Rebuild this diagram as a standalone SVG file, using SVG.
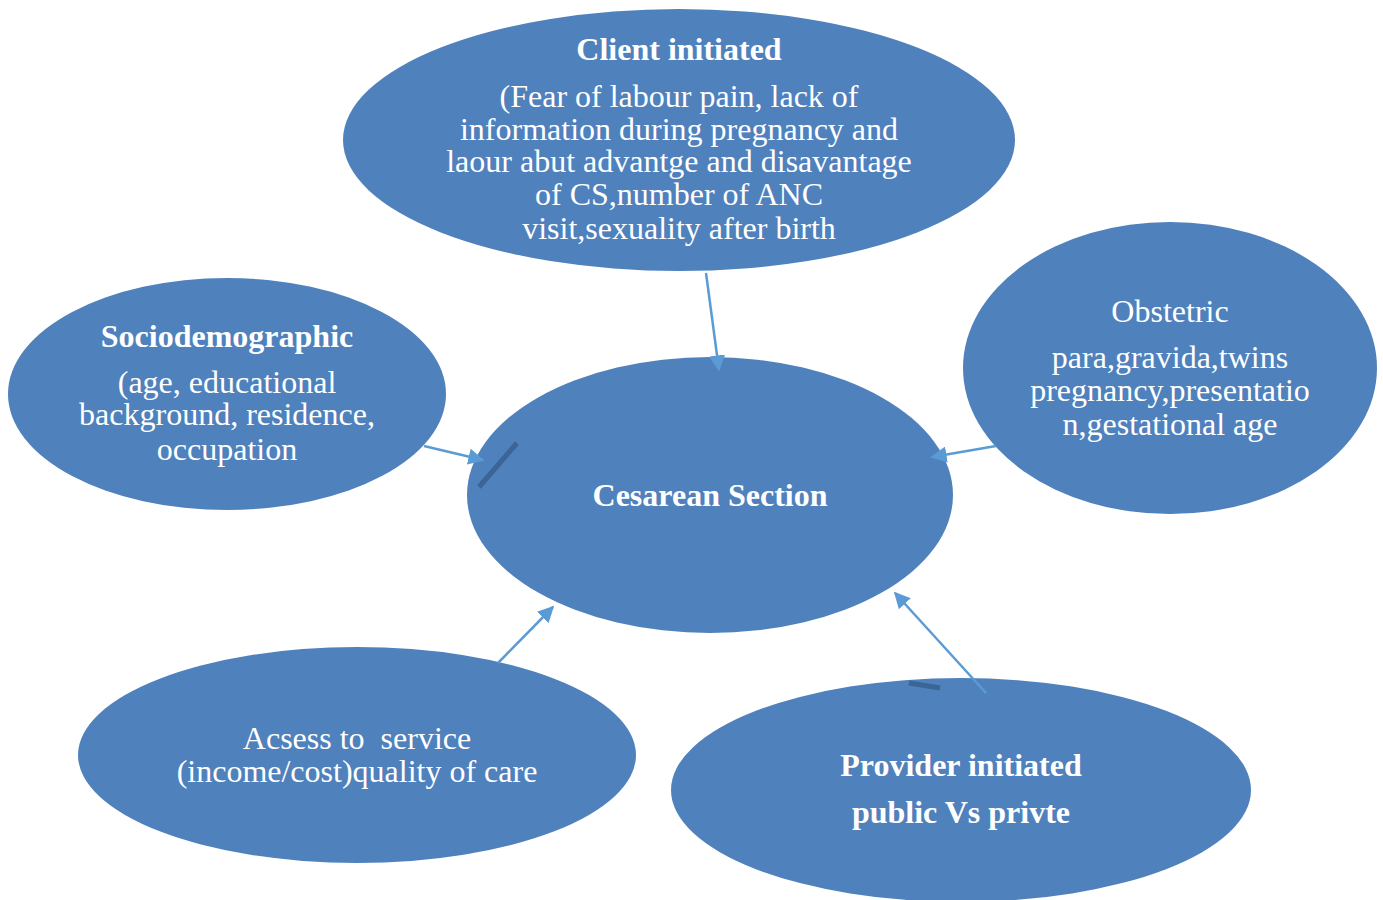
<svg xmlns="http://www.w3.org/2000/svg" width="1383" height="900" viewBox="0 0 1383 900">
  <defs>
    <marker id="arrow" viewBox="0 0 10 10" refX="9" refY="5" markerWidth="6.5" markerHeight="6.5" orient="auto" markerUnits="strokeWidth">
      <path d="M0,0 L10,5 L0,10 Z" fill="#5b9bd5"/>
    </marker>
  </defs>
  <style>
    .node { fill: #4f81bd; }
    .t { font-family: "Liberation Serif", "Times New Roman", serif; font-size: 32px; fill: #ffffff; text-anchor: middle; white-space: pre; }
    .b { font-weight: bold; }
    .edge { stroke: #5b9bd5; stroke-width: 2.5; fill: none; marker-end: url(#arrow); }
    .tick { stroke: #3b6597; stroke-width: 5; }
  </style>
  <rect width="1383" height="900" fill="#ffffff"/>

  <g id="client">
    <ellipse class="node" cx="679" cy="140" rx="336" ry="131"/>
    <text class="t b" x="679" y="60">Client initiated</text>
    <text class="t" x="679" y="107">(Fear of labour pain, lack of</text>
    <text class="t" x="679" y="140">information during pregnancy and</text>
    <text class="t" x="679" y="172">laour abut advantge and disavantage</text>
    <text class="t" x="679" y="205">of CS,number of ANC</text>
    <text class="t" x="679" y="239">visit,sexuality after birth</text>
  </g>

  <g id="sociodemographic">
    <ellipse class="node" cx="227" cy="394" rx="219" ry="116"/>
    <text class="t b" x="227" y="347">Sociodemographic</text>
    <text class="t" x="227" y="393">(age, educational</text>
    <text class="t" x="227" y="425">background, residence,</text>
    <text class="t" x="227" y="460">occupation</text>
  </g>

  <g id="obstetric">
    <ellipse class="node" cx="1170" cy="368" rx="207" ry="146"/>
    <text class="t" x="1170" y="322">Obstetric</text>
    <text class="t" x="1170" y="368">para,gravida,twins</text>
    <text class="t" x="1170" y="401">pregnancy,presentatio</text>
    <text class="t" x="1170" y="435">n,gestational age</text>
  </g>

  <g id="cesarean">
    <ellipse class="node" cx="710" cy="495" rx="243" ry="138"/>
    <text class="t b" x="710" y="506">Cesarean Section</text>
  </g>

  <g id="access">
    <ellipse class="node" cx="357" cy="755" rx="279" ry="108"/>
    <text class="t" x="357" y="749">Acsess to  service</text>
    <text class="t" x="357" y="782">(income/cost)quality of care</text>
  </g>

  <g id="provider">
    <ellipse class="node" cx="961" cy="790" rx="290" ry="112"/>
    <text class="t b" x="961" y="776">Provider initiated</text>
    <text class="t b" x="961" y="823">public Vs privte</text>
  </g>

  <g id="connectors">
    <line class="edge" x1="706" y1="273" x2="719" y2="370"/>
    <line class="edge" x1="424" y1="446" x2="483" y2="460"/>
    <line class="edge" x1="996" y1="446" x2="932" y2="457"/>
    <line class="edge" x1="498" y1="663" x2="553" y2="607"/>
    <line class="edge" x1="986" y1="693" x2="895" y2="593"/>
    <line class="tick" x1="479" y1="487" x2="517" y2="443"/>
    <line class="tick" x1="909" y1="683" x2="940" y2="688"/>
  </g>
</svg>
